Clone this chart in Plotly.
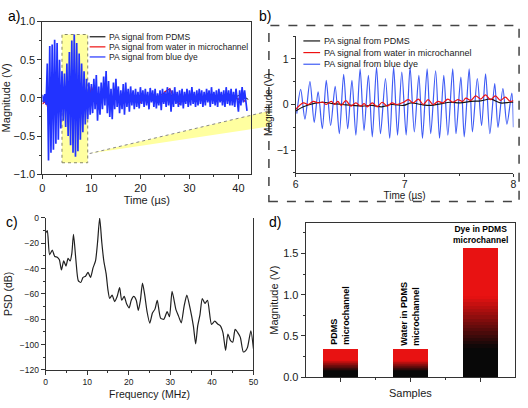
import plotly.graph_objects as go

W, H = 528, 408
FONT = "Arial, 'Liberation Sans', Helvetica, sans-serif"
TXT = "#1a1a1a"
AX = "#333333"


def PX(x):
    return x / W


def PY(y):
    return 1 - y / H


# ---------------- Panel a : full PA signals (sampled) ----------------
DT_BLUE_A = 0.25  # µs sampling step of the blue trace
blue_a = [
    0.04, -0.06, 0.05, -0.09, 0.45, -0.82, 0.68, -0.72, 0.70, -0.68,
    0.76, -0.60, 0.72, -0.55, 0.50, -0.40, 0.35, -0.30, 0.32, -0.38,
    0.45, -0.50, 0.60, -0.62, 0.75, -0.72, 0.83, -0.77, 0.72, -0.70,
    0.58, -0.55, 0.45, -0.45, 0.35, -0.35, 0.25, -0.28, 0.20, -0.22,
    0.18, -0.20, 0.25, -0.15, 0.30, -0.30, 0.15, -0.22, 0.20, -0.15,
    0.28, -0.10, 0.35, -0.20, 0.22, -0.25, 0.12, -0.28, 0.20, -0.15,
    0.25, -0.12, 0.15, -0.20, 0.10, -0.15, 0.18, -0.22, 0.20, -0.12,
    0.12, -0.18, 0.15, -0.10, 0.10, -0.15, 0.12, -0.12, 0.08, -0.14,
    0.14, -0.08, 0.10, -0.12, 0.12, -0.10, 0.08, -0.15, 0.13, -0.06,
    0.10, -0.12, 0.12, -0.14, 0.06, -0.10, 0.10, -0.16, 0.12, -0.08,
    0.08, -0.12, 0.14, -0.10, 0.12, -0.18, 0.10, -0.12, 0.14, -0.08,
    0.08, -0.12, 0.10, -0.10, 0.12, -0.14, 0.08, -0.08, 0.12, -0.12,
    0.10, -0.10, 0.14, -0.08, 0.08, -0.12, 0.10, -0.10, 0.12, -0.08,
    0.10, -0.12, 0.08, -0.10, 0.12, -0.06, 0.10, -0.12, 0.14, -0.08,
    0.08, -0.10, 0.10, -0.12, 0.12, -0.06, 0.08, -0.10, 0.10, -0.12,
    0.14, -0.08, 0.10, -0.10, 0.12, -0.10, 0.08, -0.12, 0.12, -0.08,
    -0.18, 0.10, -0.10, 0.14, -0.06, 0.10, -0.08, -0.17,
]
DT_RED_A = 0.5
red_a = [
    -0.08, -0.05, -0.10, -0.30, 0.05, -0.05, 0.02, -0.05, 0.05, -0.04,
    0.06, -0.05, 0.05, 0.02, 0.05, 0.00, 0.03, -0.03, 0.02, -0.05,
    0.15, 0.05, -0.08, -0.15, 0.05, 0.08, 0.05, -0.05, 0.02, -0.08,
    0.05, 0.00, -0.03, 0.04, -0.05, -0.03, 0.03, -0.05, 0.02, -0.04,
    -0.06, 0.02, 0.00, -0.04, 0.03, 0.05, 0.00, -0.03, 0.05, 0.04,
    0.08, 0.10, 0.12, 0.05, -0.02, -0.05, -0.08, -0.03, 0.02, 0.04,
    0.02, 0.03, -0.02, 0.02, 0.04, 0.00, -0.02, 0.03, 0.00, 0.02,
    -0.02, 0.03, 0.00, -0.03, 0.02, -0.02, 0.00, 0.02, -0.03, 0.00,
    -0.02, 0.02, -0.03, -0.05,
]
DT_BLACK_A = 1.0
black_a = [
    -0.05, 0.08, -0.15, 0.10, -0.05, 0.05, -0.10, 0.08, -0.05, 0.04,
    0.05, -0.08, 0.06, 0.04, -0.05, 0.03, -0.04, 0.02, -0.03, 0.02,
    -0.02, 0.03, 0.00, 0.02, -0.02, 0.04, 0.06, -0.02, -0.04, 0.02,
    0.00, 0.02, -0.01, 0.01, 0.00, 0.02, -0.01, 0.00, 0.01, 0.00,
    0.03, 0.02, -0.02,
]
t_blue_a = [i * DT_BLUE_A for i in range(len(blue_a))]
t_red_a = [i * DT_RED_A for i in range(len(red_a))]
t_black_a = [i * DT_BLACK_A for i in range(len(black_a))]

# zoom window marked in panel a
zoom_t = [4.0, 9.25]
zoom_v = [-0.85, 0.83]

# ---------------- Panel b : 6–8 µs detail ----------------
blue_b_t = [6.009, 6.045, 6.084, 6.13, 6.169, 6.205, 6.244, 6.28, 6.32, 6.362,
            6.40, 6.44, 6.477, 6.516, 6.552, 6.591, 6.627, 6.667, 6.703, 6.742,
            6.778, 6.824, 6.863, 6.899, 6.935, 6.974, 7.014, 7.05, 7.089, 7.131,
            7.164, 7.207, 7.24, 7.285, 7.321, 7.36, 7.397, 7.442, 7.472, 7.517,
            7.548, 7.593, 7.623, 7.668, 7.707, 7.744, 7.783, 7.828, 7.858, 7.903,
            7.94, 7.985, 8.0]
blue_b_v = [-0.20, 0.33, -0.32, 0.50, -0.39, 0.28, -0.53, 0.53, -0.46, 0.40,
            -0.64, 0.66, -0.53, 0.53, -0.67, 0.78, -0.57, 0.64, -0.71, 0.82,
            -0.64, 0.57, -0.74, 0.82, -0.67, 0.71, -0.67, 0.82, -0.60, 0.64,
            -0.74, 0.78, -0.64, 0.74, -0.74, 0.64, -0.67, 0.78, -0.64, 0.60,
            -0.71, 0.78, -0.60, 0.57, -0.46, 0.67, -0.64, 0.46, -0.50, 0.35,
            -0.43, 0.25, -0.50]
red_b_t = [6.0, 6.07, 6.115, 6.16, 6.205, 6.25, 6.28, 6.326, 6.356, 6.386,
           6.416, 6.46, 6.507, 6.552, 6.597, 6.628, 6.658, 6.703, 6.748, 6.794,
           6.839, 6.884, 6.929, 6.99, 7.035, 7.08, 7.126, 7.171, 7.216, 7.262,
           7.307, 7.352, 7.397, 7.443, 7.488, 7.533, 7.563, 7.608, 7.653, 7.699,
           7.744, 7.789, 7.834, 7.88, 7.925, 7.97, 8.0]
red_b_v = [-0.106, 0.035, 0.0, 0.07, 0.035, 0.05, 0.0, 0.07, 0.0, 0.07,
           -0.02, 0.085, -0.035, 0.035, -0.035, 0.02, -0.05, 0.035, -0.05, 0.05,
           -0.035, 0.035, 0.0, 0.05, 0.106, 0.035, 0.12, 0.0, 0.106, 0.0,
           0.07, 0.035, 0.12, 0.05, 0.106, 0.07, 0.14, 0.09, 0.19, 0.12,
           0.21, 0.106, 0.19, 0.09, 0.16, 0.07, 0.09]
black_b_t = [6.0, 6.07, 6.16, 6.25, 6.34, 6.43, 6.52, 6.61, 6.70, 6.79,
             6.88, 6.99, 7.06, 7.15, 7.24, 7.33, 7.42, 7.51, 7.61, 7.70,
             7.79, 7.88, 7.97, 8.0]
black_b_v = [-0.14, -0.05, 0.02, 0.05, 0.02, 0.0, -0.02, -0.035, -0.02, -0.05,
             0.0, -0.02, 0.035, 0.0, -0.02, 0.015, 0.05, 0.035, 0.07, 0.08,
             0.12, 0.035, 0.05, 0.05]

# ---------------- Panel c : power spectral density ----------------
psd_f = [0.0, 0.4, 0.95, 1.6, 2.2, 2.8, 3.3, 3.8, 4.35, 4.9,
         5.4, 5.9, 6.3, 6.7, 7.3, 7.85, 8.45, 9.0, 9.6, 10.2,
         10.8, 11.4, 12.0, 12.5, 13.0, 13.5, 14.0, 14.55, 15.0, 15.4,
         16.0, 16.6, 17.2, 17.8, 18.3, 18.9, 19.5, 20.1, 20.6, 21.2,
         21.8, 22.3, 22.8, 23.3, 23.8, 24.4, 25.05, 25.7, 26.3, 26.86,
         27.65, 28.44, 29.23, 29.79, 30.42, 31.37, 32.0, 32.63, 33.3, 33.97,
         34.76, 35.55, 36.1, 36.58, 37.13, 37.69, 38.32, 38.95, 39.9, 40.69,
         41.48, 42.0, 42.66, 43.3, 43.85, 44.48, 45.03, 45.59, 46.22, 46.85,
         47.56, 48.19, 48.59, 49.38, 50.0]
psd_db = [-12, -10, -29, -25.5, -30.5, -31, -33, -41, -34, -38,
          -32, -34, -28, -13, -34, -49.5, -51, -47, -46, -43,
          -47, -39.5, -34, -19, 0, -19, -34, -44, -57, -63.5,
          -61, -66, -62, -55, -65, -62, -68, -71, -65, -62,
          -65, -73, -65, -51.5, -60, -74, -83, -75, -72, -65,
          -79, -80, -74, -78, -58, -72.6, -77.7, -82.8, -70, -61,
          -71.4, -85.4, -99.4, -85.4, -76.5, -63.7, -67.5, -65, -84, -81.5,
          -84, -85, -90.5, -104.5, -91.7, -96.8, -98, -88, -90.5, -94.3,
          -105.8, -104.5, -102, -89.2, -103.2]

# ---------------- Panel d : peak magnitudes ----------------
samples = [1, 2, 3]
sample_labels = ["PDMS<br>microchannel", "Water in PDMS<br>microchannel",
                 "Dye in PDMS<br>microchannel"]
magnitudes = [0.333, 0.325, 1.566]

legend_labels = ["PA signal from PDMS", "PA signal from water in microchannel",
                 "PA signal from blue dye"]

C_BLACK = "#151515"
C_RED = "#ee1111"
C_BLUE = "#2233ff"
C_BLUE_B = "#3f5cf5"

fig = go.Figure()

# panel a traces
fig.add_trace(go.Scatter(x=t_black_a, y=black_a, mode="lines", line=dict(color=C_BLACK, width=1),
                         xaxis="x", yaxis="y", showlegend=False, name=legend_labels[0]))
fig.add_trace(go.Scatter(x=t_red_a, y=red_a, mode="lines", line=dict(color=C_RED, width=1.3),
                         xaxis="x", yaxis="y", showlegend=False, name=legend_labels[1]))
fig.add_trace(go.Scatter(x=t_blue_a, y=blue_a, mode="lines", line=dict(color=C_BLUE, width=1.7),
                         xaxis="x", yaxis="y", showlegend=False, name=legend_labels[2]))

# panel b traces
fig.add_trace(go.Scatter(x=blue_b_t, y=blue_b_v, mode="lines", line=dict(color=C_BLUE_B, width=1.2, shape="spline", smoothing=0.8),
                         xaxis="x2", yaxis="y2", showlegend=False, name=legend_labels[2]))
fig.add_trace(go.Scatter(x=black_b_t, y=black_b_v, mode="lines", line=dict(color=C_BLACK, width=1.2, shape="spline"),
                         xaxis="x2", yaxis="y2", showlegend=False, name=legend_labels[0]))
fig.add_trace(go.Scatter(x=red_b_t, y=red_b_v, mode="lines", line=dict(color=C_RED, width=1.2, shape="spline"),
                         xaxis="x2", yaxis="y2", showlegend=False, name=legend_labels[1]))

# panel c trace
fig.add_trace(go.Scatter(x=psd_f, y=psd_db, mode="lines", line=dict(color="#202020", width=1.2, shape="spline", smoothing=0.6),
                         xaxis="x3", yaxis="y3", showlegend=False, name="PSD"))

# panel d: gradient bars built as stacked slices of each bar value
N_SLICES = 40
for k in range(N_SLICES):
    f = (k + 0.5) / N_SLICES
    a = min(max((f - 0.22) / (0.62 - 0.22), 0.0), 1.0)
    r, g, b = int(8 + a * (232 - 8)), int(8 + a * (18 - 8)), int(8 + a * (18 - 8))
    fig.add_trace(go.Bar(x=samples, y=[m / N_SLICES for m in magnitudes], width=0.5,
                         marker=dict(color=f"rgb({r},{g},{b})", line=dict(width=0)),
                         xaxis="x4", yaxis="y4", showlegend=False, hoverinfo="skip"))

tickfont = dict(family=FONT, size=11, color=TXT)
titlefont = dict(family=FONT, size=11, color=TXT)
axis_common = dict(showline=True, linecolor=AX, linewidth=1, ticks="outside", ticklen=4,
                   tickcolor=AX, showgrid=False, zeroline=False)

fig.update_layout(
    width=W, height=H, margin=dict(l=0, r=0, t=0, b=0),
    paper_bgcolor="white", plot_bgcolor="white", barmode="stack", bargap=0,
    font=dict(family=FONT, color=TXT),
    xaxis=dict(domain=[PX(40), PX(252)], range=[0, 42.6], dtick=10, tick0=0, mirror=True,
               minor=dict(dtick=5, ticks="outside", ticklen=2, tickcolor=AX),
               tickfont=tickfont, title=dict(text="Time (µs)", font=titlefont, standoff=0),
               anchor="y", **axis_common),
    yaxis=dict(domain=[PY(173.3), PY(16)], range=[-1, 1], dtick=0.5, tickformat=".1f", mirror=True,
               minor=dict(dtick=0.25, ticks="outside", ticklen=2, tickcolor=AX),
               tickfont=tickfont, title=dict(text="Magnitude (V)", font=titlefont, standoff=3),
               anchor="x", **axis_common),
    xaxis2=dict(domain=[PX(297.3), PX(518.3)], range=[6, 8], dtick=1, tick0=6, ticklabelstandoff=-2,
                minor=dict(dtick=0.5, ticks="outside", ticklen=2, tickcolor=AX),
                tickfont=dict(family=FONT, size=10.5, color=TXT),
                title=dict(text="Time (µs)", font=dict(family=FONT, size=10, color=TXT), standoff=0),
                anchor="y2", **dict(axis_common, ticklen=3)),
    yaxis2=dict(domain=[PY(172), PY(31)], range=[-1.5, 1.5], tickvals=[-1, 0, 1],
                minor=dict(dtick=0.5, tick0=0, ticks="outside", ticklen=2, tickcolor=AX),
                tickfont=dict(family=FONT, size=10.5, color=TXT),
                title=dict(text="Magnitude (V)", font=dict(family=FONT, size=10, color=TXT), standoff=2),
                anchor="x2", **axis_common),
    xaxis3=dict(domain=[PX(43.3), PX(254.3)], range=[0, 50], dtick=10, tick0=0,
                minor=dict(dtick=5, ticks="outside", ticklen=2, tickcolor=AX),
                tickfont=dict(family=FONT, size=8.5, color=TXT),
                title=dict(text="Frequency (MHz)", font=dict(family=FONT, size=10.5, color=TXT), standoff=4),
                anchor="y3", **axis_common),
    yaxis3=dict(domain=[PY(375), PY(218.3)], range=[-120, 0], dtick=20, tick0=0, mirror=True,
                minor=dict(dtick=10, ticks="outside", ticklen=2, tickcolor=AX),
                tickfont=dict(family=FONT, size=8.5, color=TXT),
                title=dict(text="PSD (dB)", font=dict(family=FONT, size=10.5, color=TXT), standoff=5),
                anchor="x3", **axis_common),
    xaxis4=dict(domain=[PX(307.3), PX(520)], range=[0.5, 3.5], tickvals=samples, showticklabels=False,
                minor=dict(tickvals=[1.5, 2.5], ticks="outside", ticklen=2, tickcolor=AX), mirror=True,
                title=dict(text="Samples", font=titlefont, standoff=8),
                anchor="y4", **axis_common),
    yaxis4=dict(domain=[PY(382.3), PY(224)], range=[0, 1.865], dtick=0.5, tick0=0, tickformat=".1f", mirror=True,
                minor=dict(dtick=0.25, ticks="outside", ticklen=2, tickcolor=AX),
                tickfont=tickfont, title=dict(text="Magnitude (V)", font=titlefont, standoff=2),
                anchor="x4", **axis_common),
)

shapes = []
# yellow zoom window in panel a
shapes.append(dict(type="rect", xref="x", yref="y", x0=zoom_t[0], x1=zoom_t[1], y0=zoom_v[0], y1=zoom_v[1],
                   fillcolor="#ffffa0", line=dict(color="#888866", width=1, dash="dot"), layer="below"))
# yellow wedge linking the window to panel b
wedge = f"M {PX(88)},{PY(152)} L {PX(271)},{PY(108)} L {PX(271)},{PY(124)} Z"
shapes.append(dict(type="path", xref="paper", yref="paper", path=wedge, fillcolor="#ffffa0",
                   line=dict(width=0), layer="below"))
shapes.append(dict(type="line", xref="paper", yref="paper", x0=PX(88), y0=PY(152), x1=PX(271), y1=PY(108),
                   line=dict(color="#888888", width=1, dash="dot")))
# dashed frame around panel b
shapes.append(dict(type="rect", xref="paper", yref="paper", x0=PX(270), x1=PX(524), y0=PY(201.5), y1=PY(20),
                   line=dict(color="#444444", width=1.5, dash="dash")))

annotations = []
# manual legends
legend_colors = [C_BLACK, C_RED, C_BLUE]
for i, (lab, col) in enumerate(zip(legend_labels, legend_colors)):
    ya = 31.7 + i * 10.4
    shapes.append(dict(type="line", xref="paper", yref="paper", x0=PX(88), x1=PX(104), y0=PY(ya), y1=PY(ya),
                       line=dict(color=col, width=1.2)))
    annotations.append(dict(xref="paper", yref="paper", x=PX(106), y=PY(ya), text=lab, showarrow=False,
                            xanchor="left", yanchor="middle", font=dict(family=FONT, size=8.5, color=TXT)))
    yb = 36 + i * 12
    colb = [C_BLACK, C_RED, C_BLUE_B][i]
    shapes.append(dict(type="line", xref="paper", yref="paper", x0=PX(305), x1=PX(322), y0=PY(yb), y1=PY(yb),
                       line=dict(color=colb, width=1.2)))
    annotations.append(dict(xref="paper", yref="paper", x=PX(324), y=PY(yb), text=lab, showarrow=False,
                            xanchor="left", yanchor="middle", font=dict(family=FONT, size=9, color=TXT)))

# panel letters
for lab, x, y in [("a)", 11, 10), ("b)", 266, 10), ("c)", 9, 223), ("d)", 276, 223)]:
    annotations.append(dict(xref="paper", yref="paper", x=PX(x), y=PY(y), text=lab, showarrow=False,
                            xanchor="center", yanchor="middle", font=dict(family=FONT, size=14, color="#000")))

# bar labels
for i, (s, lab, m) in enumerate(zip(samples, sample_labels, magnitudes)):
    if i < 2:
        annotations.append(dict(xref="x4", yref="y4", x=s, y=m, text=f"<b>{lab}</b>", showarrow=False,
                                textangle=-90, xanchor="center", yanchor="bottom", yshift=3, align="left",
                                font=dict(family=FONT, size=9, color="#000")))
    else:
        annotations.append(dict(xref="x4", yref="y4", x=s, y=m, text=f"<b>{lab}</b>", showarrow=False,
                                xanchor="center", yanchor="bottom", yshift=1, align="center",
                                font=dict(family=FONT, size=8.5, color="#000")))

fig.update_layout(shapes=shapes, annotations=annotations)

fig.write_html("out.html", config={"displayModeBar": False},
               post_script="document.body.style.margin='0';")
